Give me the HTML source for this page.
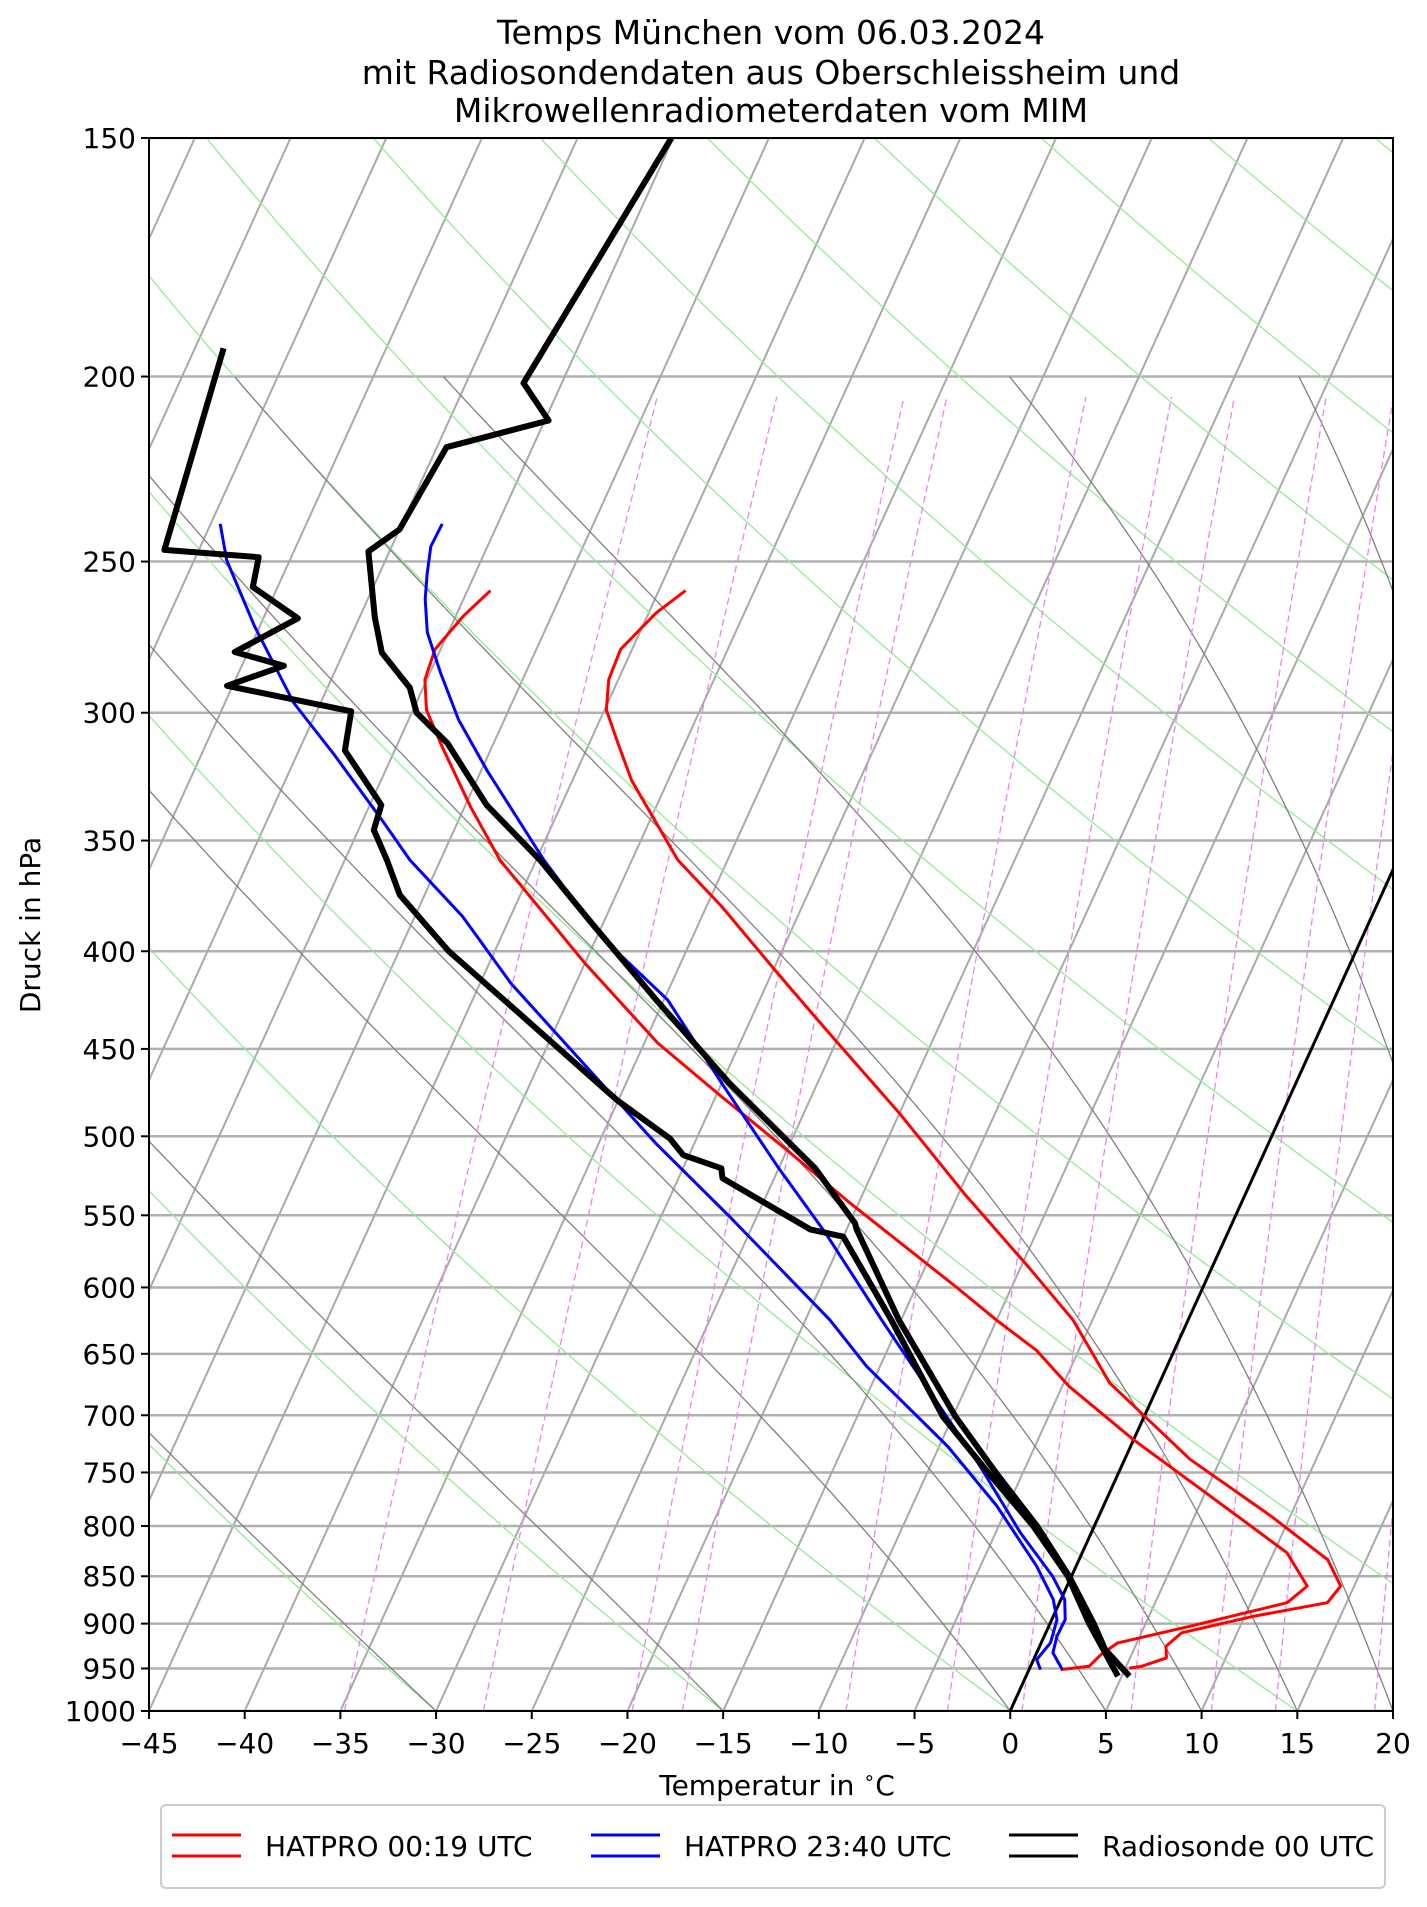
<!DOCTYPE html>
<html><head><meta charset="utf-8"><style>
html,body{margin:0;padding:0;background:#fff;}
svg{display:block;font-family:"DejaVu Sans","Liberation Sans",sans-serif;}
</style></head><body>
<svg id="chart" width="1427" height="1907" viewBox="0 0 1427 1907" xmlns="http://www.w3.org/2000/svg">
<defs><clipPath id="plotclip"><rect x="149" y="138" width="1244" height="1573"/></clipPath></defs>
<rect x="0" y="0" width="1427" height="1907" fill="#fff"/>
<g font-size="33" text-anchor="middle" fill="#000">
<text x="771" y="44">Temps München vom 06.03.2024</text>
<text x="771" y="84">mit Radiosondendaten aus Oberschleissheim und</text>
<text x="771" y="122">Mikrowellenradiometerdaten vom MIM</text>
</g>
<g id="grid" clip-path="url(#plotclip)"></g>
<g id="series" clip-path="url(#plotclip)"></g>
<rect x="149" y="138" width="1244" height="1573" fill="none" stroke="#000" stroke-width="2"/>
<g id="axes"></g>
<text x="777" y="1795" font-size="28" text-anchor="middle">Temperatur in <tspan font-size="19" dy="-11">∘</tspan><tspan dy="11">C</tspan></text>
<text x="0" y="0" font-size="28" text-anchor="middle" transform="translate(40,925) rotate(-90)">Druck in hPa</text>
<g>
<rect x="161" y="1805" width="1224" height="83" rx="5" fill="#fff" stroke="#ccc" stroke-width="2"/>
<g>
<line x1="172" y1="1835" x2="241" y2="1835" stroke="#ff0000" stroke-width="3"/><line x1="172" y1="1856" x2="241" y2="1856" stroke="#ff0000" stroke-width="3"/>
<text x="265" y="1856" font-size="28">HATPRO 00:19 UTC</text></g>
<g>
<line x1="591" y1="1835" x2="660" y2="1835" stroke="#0000ff" stroke-width="3"/><line x1="591" y1="1856" x2="660" y2="1856" stroke="#0000ff" stroke-width="3"/>
<text x="684" y="1856" font-size="28">HATPRO 23:40 UTC</text></g>
<g>
<line x1="1009" y1="1835" x2="1078" y2="1835" stroke="#000" stroke-width="3"/><line x1="1009" y1="1856" x2="1078" y2="1856" stroke="#000" stroke-width="3"/>
<text x="1102" y="1856" font-size="28">Radiosonde 00 UTC</text></g>
</g>
</svg>
<script>
// ---- data ----
const pressureTicks = [150,200,250,300,350,400,450,500,550,600,650,700,750,800,850,900,950,1000];
const tempTicks = [-45,-40,-35,-30,-25,-20,-15,-10,-5,0,5,10,15,20];
const isotherms = [-120,-115,-110,-105,-100,-95,-90,-85,-80,-75,-70,-65,-60,-55,-50,-45,-40,-35,-30,-25,-20,-15,-10,-5,5,10,15,20];
const dryAdiabats = [-45,-30,-15,0,15,30,45,60,75,90,105,120,135,150,165,180];
const moistAdiabats = [-30,-15,0,5,10,15,20,30,35];
const mixingRatios = [0.2,0.4,0.8,1,2,3,4,6,8,10,14];

const sondeTp = [150,201.6,210.9,217.8,240.5,247,267.4,279,291.1,300,311.3,335.3,358.3,386.7,424.2,469,519.7,555.4,559,624.2,701.4,750.4,800,849.8,899,928.6,958.9];
const sondeT  = [-55.1,-57.0,-54.8,-59.5,-60.0,-61.1,-59.2,-58.0,-55.7,-54.75,-52.4,-48.9,-44.8,-40.6,-35.4,-29.6,-23.1,-19.7,-19.5,-15.1,-9.84,-6.4,-3.0,-0.13,2.24,3.5,5.4];
const sondeTdp = [193.3,246.5,248.7,257.8,267.7,278.8,283.5,290.4,299.5,314,335.3,345.6,358.3,373.7,400,427.6,478.5,501.3,511.5,519.7,525.9,559.4,564.4,624.2,701.4,750.4,800,849.8,899,958.9];
const sondeTd  = [-73.5,-71.8,-66.7,-66.3,-63.2,-65.7,-62.8,-65.3,-58.2,-57.6,-54.4,-54.2,-52.8,-51.3,-47.4,-42.8,-35.1,-31.4,-30.3,-28.0,-27.7,-21.9,-20.0,-15.5,-10.5,-6.8,-3.2,-0.2,2.0,4.8];

const redTp = [258.9,265.9,277.9,288.3,299,311.3,325.6,358.3,379,410.7,440.6,486.3,535.8,585.4,624.2,673.3,738.1,790.6,833.3,860.2,877.6,891.8,910,924.9,938,947.5,949.6];
const redT  = [-43.6,-44.6,-45.6,-45.5,-44.9,-43.5,-41.9,-37.6,-34.2,-29.7,-25.7,-20.0,-14.7,-9.6,-6.0,-2.6,3.4,9.0,13.0,14.3,14.0,10.5,7.1,6.6,6.9,5.8,5.2];
const redTdp = [258.9,266.9,277.9,288.3,299,312.6,336,358.3,405.8,446.8,476.6,508.4,542.3,599.7,624.2,647.3,676,721,774.6,826.3,860.2,877.6,902.8,921.2,934.2,947.5,951.3];
const redTd  = [-53.8,-54.6,-55.3,-55.1,-54.3,-52.6,-49.7,-46.9,-40.0,-34.3,-29.7,-25.0,-20.4,-12.9,-10.0,-7.2,-4.65,0.0,5.64,10.7,12.55,11.9,7.4,4.0,3.4,3.06,1.66];

const blueTp = [238.9,245.5,253.8,261.6,272.3,285.5,302.5,321.6,358.3,392.9,424.2,469,518.6,562.1,624.2,673.3,744.3,806.7,849.8,874.3,895.6,913.6,932.3,951.3];
const blueT  = [-57.9,-57.96,-57.5,-57.0,-56.1,-54.5,-52.4,-49.7,-44.6,-39.8,-34.8,-30.0,-25.1,-21.0,-16.0,-12.3,-7.4,-3.7,-1.0,0.2,0.7,0.66,0.85,1.74];
const blueTdp = [238.9,249.6,270.1,296.5,315.3,341.5,358.3,383.6,415.7,454.1,504.4,551,624.2,659.9,726.9,780.5,840,874.3,895.6,921,939.9,951.3];
const blueTd  = [-69.5,-68.3,-65.3,-61.4,-58.1,-54.0,-51.6,-47.5,-43.4,-38.2,-32.0,-26.4,-18.7,-15.7,-9.55,-5.6,-2.05,-0.4,0.27,0.48,0.16,0.6];

// ---- axis functions ----
const TOP=138, BOT=1711, LEFT=149, RIGHT=1393, SKEW=0.455;
const XS=(RIGHT-LEFT)/65;
function yOf(p){return TOP+Math.log(p/150)/Math.log(1000/150)*(BOT-TOP);}
function xOf(T,p){return LEFT+(T+45)*XS+SKEW*(BOT-yOf(p));}
const NS='http://www.w3.org/2000/svg';
function mk(tag,attrs,parent){const e=document.createElementNS(NS,tag);for(const k in attrs)e.setAttribute(k,attrs[k]);parent.appendChild(e);return e;}
function pathFrom(ps,ts){let d='';for(let i=0;i<ps.length;i++){d+=(i?'L':'M')+xOf(ts[i],ps[i]).toFixed(1)+','+yOf(ps[i]).toFixed(1);}return d;}
function logRange(p0,p1,n){const a=[];for(let i=0;i<=n;i++)a.push(p0*Math.pow(p1/p0,i/n));return a;}

const grid=document.getElementById('grid');
const series=document.getElementById('series');
const axes=document.getElementById('axes');

pressureTicks.forEach(p=>{
  const l=mk('line',{x1:LEFT,x2:RIGHT,y1:yOf(p),y2:yOf(p),stroke:'#b0b0b0','stroke-width':2.5},grid);
  
  
});
isotherms.forEach(t=>{
  const l=mk('path',{d:pathFrom([1000,150],[t,t]),stroke:'#a9a9a9','stroke-width':2,fill:'none'},grid);
  
  
});
dryAdiabats.forEach(th=>{
  const ps=logRange(1000,150,60);const ts=ps.map(p=>(th+273.15)*Math.pow(p/1000,0.2857)-273.15);
  const l=mk('path',{d:pathFrom(ps,ts),stroke:'#90ee90','stroke-width':1.3,fill:'none'},grid);
  
  
});
function es(tc){return 6.112*Math.exp(17.67*tc/(tc+243.5));}
function dTdlnp(T,p){const Rd=287.04,cp=1005.7,Lv=2.501e6,eps=0.622;const e=es(T-273.15);const rs=eps*e/(p-e);
  return (Rd*T+Lv*rs)/(cp+Lv*Lv*rs*eps/(Rd*T*T));}
moistAdiabats.forEach(t0=>{
  const ps=[1000],ts=[t0];let T=t0+273.15,p=1000;const n=120,h=Math.log(200/1000)/n;
  for(let i=0;i<n;i++){const k1=dTdlnp(T,p);const pm=p*Math.exp(h/2);const k2=dTdlnp(T+k1*h/2,pm);T+=k2*h;p=p*Math.exp(h);ps.push(p);ts.push(T-273.15);}
  const l=mk('path',{d:pathFrom(ps,ts),stroke:'#808080','stroke-width':1.3,fill:'none'},grid);
  
  
});
mixingRatios.forEach(w=>{
  const ps=logRange(1000,205,30);const ts=ps.map(p=>{const r=w/1000;const e=p*r/(0.622+r);const L=Math.log(e/6.112);return 243.5*L/(17.67-L);});
  const l=mk('path',{d:pathFrom(ps,ts),stroke:'#ee82ee','stroke-width':1.3,fill:'none','stroke-dasharray':'7,4'},grid);
  
  
});
const zero=mk('path',{d:pathFrom([1000,150],[0,0]),stroke:'#000','stroke-width':3,fill:'none'},grid);



function drawSeries(ps,ts,color,w,name){
  const l=mk('path',{d:pathFrom(ps,ts),stroke:color,'stroke-width':w,fill:'none','stroke-linejoin':'round','stroke-linecap':'butt'},series);
  
  
}
drawSeries(redTdp,redTd,'#ff0000',3,'hatpro-0019-dewpoint');
drawSeries(redTp,redT,'#ff0000',3,'hatpro-0019-temperature');
drawSeries(blueTdp,blueTd,'#0000ff',3,'hatpro-2340-dewpoint');
drawSeries(blueTp,blueT,'#0000ff',3,'hatpro-2340-temperature');
drawSeries(sondeTdp,sondeTd,'#000',6,'radiosonde-dewpoint');
drawSeries(sondeTp,sondeT,'#000',6,'radiosonde-temperature');

pressureTicks.forEach(p=>{
  const y=yOf(p);
  const t=mk('line',{x1:LEFT-8,x2:LEFT,y1:y,y2:y,stroke:'#000','stroke-width':2},axes);
  
  
  const tx=mk('text',{x:LEFT-13,y:y+10,'font-size':28,'text-anchor':'end'},axes);
  tx.textContent=p;
  
  
});
tempTicks.forEach(t=>{
  const x=LEFT+(t+45)*XS;
  const tk=mk('line',{x1:x,x2:x,y1:BOT,y2:BOT+8,stroke:'#000','stroke-width':2},axes);
  
  
  const tx=mk('text',{x:x,y:BOT+42,'font-size':28,'text-anchor':'middle'},axes);
  tx.textContent=(t<0?'\u2212'+(-t):String(t));
  
  
});
</script>
</body></html>
